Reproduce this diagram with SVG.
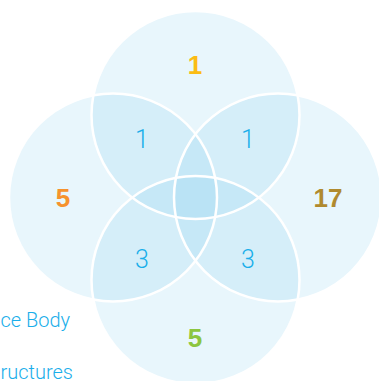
<svg xmlns="http://www.w3.org/2000/svg" width="379" height="381" viewBox="0 0 379 381">
  <style>
    .fill { fill: rgb(140,210,240); fill-opacity: 0.2; stroke: none; }
    .edge { fill: none; stroke: #ffffff; stroke-width: 2.5; }
    .big { font-family: "Liberation Sans", Arial, sans-serif; font-weight: bold; font-size: 26px; text-anchor: middle; }
    .thin { font-family: Roboto, "Liberation Sans", Arial, sans-serif; font-weight: 300; font-size: 25px; fill: #1aaeea; text-anchor: middle; }
    .legend { font-family: Roboto, "Liberation Sans", Arial, sans-serif; font-weight: 300; font-size: 20px; fill: #1aaeea; }
  </style>
  <rect width="379" height="381" fill="#ffffff"/>
  <g id="fills">
    <circle id="set-top" class="fill" cx="195.5" cy="115" r="104"/>
    <circle id="set-left" class="fill" cx="113" cy="197.5" r="104"/>
    <circle id="set-right" class="fill" cx="278" cy="197.5" r="104"/>
    <circle id="set-bottom" class="fill" cx="195.5" cy="280" r="104"/>
  </g>
  <g id="edges">
    <circle class="edge" cx="195.5" cy="115" r="104"/>
    <circle class="edge" cx="113" cy="197.5" r="104"/>
    <circle class="edge" cx="278" cy="197.5" r="104"/>
    <circle class="edge" cx="195.5" cy="280" r="104"/>
  </g>
  <g id="labels">
    <text class="big" x="195" y="74" fill="#fbbc14">1</text>
    <text class="big" x="63" y="207" fill="#f6922d">5</text>
    <text class="big" x="328" y="207" fill="#b08a2e">17</text>
    <text class="big" x="195" y="347" fill="#8cc63f">5</text>
    <text class="thin" x="142" y="148">1</text>
    <text class="thin" x="248" y="148">1</text>
    <text class="thin" x="142" y="268">3</text>
    <text class="thin" x="248" y="268">3</text>
  </g>
  <g id="legend">
    <text class="legend" x="0.5" y="327">ce Body</text>
    <text class="legend" x="0.5" y="379">ructures</text>
  </g>
</svg>
